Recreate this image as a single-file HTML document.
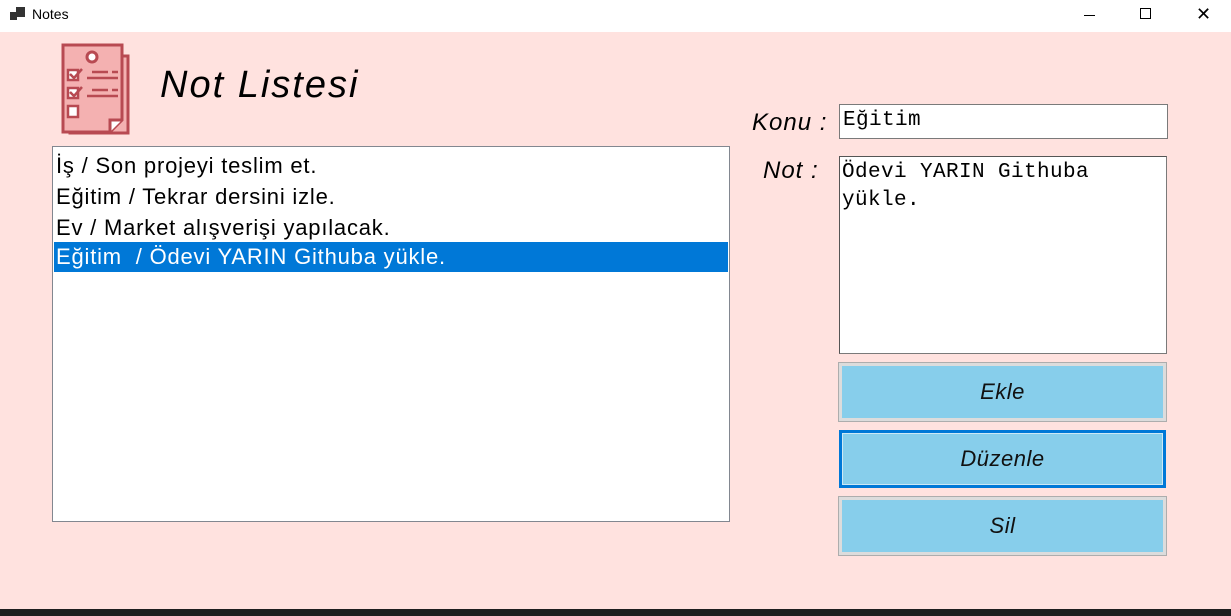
<!DOCTYPE html>
<html><head><meta charset="utf-8"><style>
*{margin:0;padding:0;box-sizing:border-box}
body{width:1231px;height:616px;background:#ffe2df;position:relative;overflow:hidden;font-family:"Liberation Sans","DejaVu Sans",sans-serif}
.a{position:absolute}
.hand{font-family:"Liberation Sans",sans-serif;font-style:italic}
.btn{position:absolute;left:839px;width:327px;height:58px;background:#87ceeb;border:3px solid #dcdcdc;outline:1px solid #adadad;display:flex;align-items:center;justify-content:center;font-size:22px;color:#111;letter-spacing:0.5px}
</style></head><body>
<div class="a" style="left:0;top:0;width:1231px;height:32px;background:#fff"></div>
<div class="a" style="left:10px;top:12px;width:7px;height:8px;background:#333"></div>
<div class="a" style="left:16px;top:7px;width:9px;height:10px;background:#333"></div>
<div class="a" style="left:32px;top:6px;font-size:14px;color:#000">Notes</div>
<div class="a" style="left:1084px;top:15px;width:11px;height:1px;background:#000"></div>
<div class="a" style="left:1140px;top:8px;width:11px;height:11px;border:1px solid #000"></div>
<div class="a" style="left:1196px;top:6px;font-size:18px;line-height:16px;color:#000">✕</div>

<svg class="a" style="left:60px;top:42px" width="76" height="96" viewBox="0 0 76 96">
<rect x="10" y="14" width="58" height="77" fill="#f4b1b1" stroke="#b84a52" stroke-width="3"/>
<path d="M3 3 H62 V78 L50 90 H3 Z" fill="#f4b1b1" stroke="#b84a52" stroke-width="3"/>
<path d="M50 90 V78 H62" fill="#fff" stroke="#b84a52" stroke-width="3"/>
<circle cx="32" cy="15" r="5" fill="#fff" stroke="#b84a52" stroke-width="3"/>
<rect x="8" y="28" width="10" height="10" fill="#fff" stroke="#b84a52" stroke-width="2.5"/>
<rect x="8" y="46" width="10" height="10" fill="#fff" stroke="#b84a52" stroke-width="2.5"/>
<rect x="8" y="64" width="10" height="11" fill="#fff" stroke="#b84a52" stroke-width="2.5"/>
<path d="M10 32 l4 4 l8 -9 M10 50 l4 4 l8 -9" fill="none" stroke="#b84a52" stroke-width="2.5"/>
<path d="M32 30 H48 M52 30 H58 M27 36 H58 M32 48 H48 M52 48 H58 M27 54 H58" stroke="#b84a52" stroke-width="2.5"/>
</svg>
<div class="a hand" style="left:160px;top:64px;font-size:38px;color:#000;letter-spacing:2px">Not Listesi</div>

<div class="a" style="left:52px;top:146px;width:678px;height:376px;background:#fff;border:1px solid #828790"></div>
<div class="a" style="left:56px;top:150px;font-size:22px;line-height:31px;color:#000;letter-spacing:0.8px">İş / Son projeyi teslim et.<br>Eğitim / Tekrar dersini izle.<br>Ev / Market alışverişi yapılacak.</div>
<div class="a" style="left:54px;top:242px;width:674px;height:30px;background:#0078d7;color:#fff;font-size:22px;line-height:30px;padding-left:2px;white-space:pre;letter-spacing:0.8px">Eğitim  / Ödevi YARIN Githuba yükle.</div>

<div class="a hand" style="left:752px;top:109px;font-size:24px;color:#000;letter-spacing:1px">Konu :</div>
<div class="a hand" style="left:763px;top:157px;font-size:24px;color:#000;letter-spacing:1px">Not :</div>
<div class="a" style="left:839px;top:104px;width:329px;height:35px;background:#fff;border:1px solid #7a7a7a;font-family:'Liberation Mono',monospace;font-size:21px;padding:4px 3px;letter-spacing:0.4px">Eğitim</div>
<div class="a" style="left:839px;top:156px;width:328px;height:198px;background:#fff;border:1px solid #7a7a7a;border-top-color:#555;border-left-color:#555;font-family:'Liberation Mono',monospace;font-size:21px;line-height:28px;padding:2px 2px;letter-spacing:0.4px">Ödevi YARIN Githuba<br>yükle.</div>

<div class="btn hand" style="top:363px">Ekle</div>
<div class="btn hand" style="top:430px;border:3px solid #0078d7;outline:none;box-shadow:inset 0 0 0 1px #cde8f5">Düzenle</div>
<div class="btn hand" style="top:497px">Sil</div>

<div class="a" style="left:0;top:609px;width:1231px;height:7px;background:#1f1f1f"></div>
</body></html>
